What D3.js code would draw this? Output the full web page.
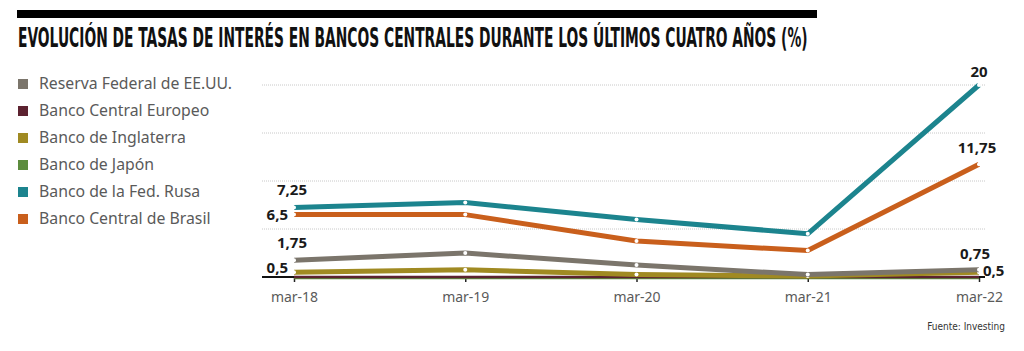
<!DOCTYPE html>
<html>
<head>
<meta charset="utf-8">
<script src="https://cdn.jsdelivr.net/npm/d3@7"></script>
<style>
  body { margin: 0; background: #fff; }
  svg { display: block; }
</style>
</head>
<body>
<script>
// datos
var fechas = ["mar-18", "mar-19", "mar-20", "mar-21", "mar-22"];
var bancos = ["Reserva Federal de EE.UU.", "Banco Central Europeo", "Banco de Inglaterra",
              "Banco de Japón", "Banco de la Fed. Rusa", "Banco Central de Brasil"];
var fed = [1.75, 2.5, 1.25, 0.25, 0.75];
var bce = [0, 0, 0, 0, 0];
var boe = [0.5, 0.75, 0.25, 0.1, 0.5];
var boj = [-0.1, -0.1, -0.1, -0.1, -0.1];
var rusia = [7.25, 7.75, 6, 4.5, 20];
var brasil = [6.5, 6.5, 3.75, 2.75, 11.75];
var colores = ["#7b756b", "#5c2230", "#a08a22", "#5c8c3e", "#1c848e", "#c95f1c"];
var gridTicks = [5, 10, 15, 20];

var width = 1024, height = 351;
var fuente = "'Noto Sans', 'Open Sans', sans-serif";

var series = [fed, bce, boe, boj, rusia, brasil].map(function(v, i) {
  return {name: bancos[i], color: colores[i], values: v};
});

var svg = d3.select("body").append("svg")
  .attr("width", width)
  .attr("height", height);

// titulo
svg.append("rect")
  .attr("x", 17).attr("y", 10)
  .attr("width", 800).attr("height", 8)
  .attr("fill", "#000");

var titulo = svg.append("text")
  .attr("x", 0).attr("y", 0)
  .style("font-family", "'Liberation Sans Narrow', 'DejaVu Sans Condensed', 'DejaVu Sans', sans-serif")
  .style("font-weight", "bold")
  .style("font-size", "26px")
  .style("fill", "#111")
  .text("EVOLUCIÓN DE TASAS DE INTERÉS EN BANCOS CENTRALES DURANTE LOS ÚLTIMOS CUATRO AÑOS (%)");
// ajustar ancho a 790px y estirar en vertical
var w0 = titulo.node().getComputedTextLength();
var fs = 26 * 790 / w0;
titulo.style("font-size", fs + "px");
var sy = 19.5 / (0.73 * fs);
titulo.attr("transform", "translate(18,47) scale(1," + sy + ")");

// leyenda
var legend = svg.append("g").attr("transform", "translate(18,84)");
var items = legend.selectAll("g")
  .data(series)
  .enter().append("g")
  .attr("transform", function(d, i) { return "translate(0," + (i * 27) + ")"; });
items.append("rect")
  .attr("x", 0).attr("y", -5)
  .attr("width", 10).attr("height", 10)
  .attr("fill", function(d) { return d.color; });
var ltxt = items.append("text")
  .attr("x", 21).attr("y", 5)
  .style("font-family", fuente)
  .style("font-size", "15px")
  .style("fill", "#5a5a5a")
  .text(function(d) { return d.name; });
var lw = ltxt.nodes()[0].getComputedTextLength();
ltxt.style("font-size", Math.min(16, 15 * 193 / lw) + "px");

// escalas
var x = d3.scalePoint()
  .domain(fechas)
  .range([294, 979]);

var y = d3.scaleLinear()
  .domain([0, 20])
  .range([277, 85]);

var g = svg.append("g");

// rejilla
g.selectAll(".grid")
  .data(gridTicks)
  .enter().append("line")
  .attr("x1", 262).attr("x2", 985)
  .attr("y1", function(d) { return y(d); })
  .attr("y2", function(d) { return y(d); })
  .attr("stroke", "#c8c8c8")
  .attr("stroke-width", 1)
  .attr("stroke-dasharray", "1,1");

// eje x
var xAxis = d3.axisBottom(x).tickSize(5).tickPadding(10);
var ax = g.append("g")
  .attr("transform", "translate(0," + y(0) + ")")
  .call(xAxis);
ax.select(".domain").remove();
ax.selectAll(".tick line").attr("stroke", "#222").attr("stroke-width", 1.5);
ax.selectAll(".tick text")
  .style("font-family", fuente)
  .style("font-size", "14px")
  .style("fill", "#5a5a5a");

g.append("line")
  .attr("x1", 262).attr("x2", 985)
  .attr("y1", y(0)).attr("y2", y(0))
  .attr("stroke", "#111")
  .attr("stroke-width", 2);

// lineas
var line = d3.line()
  .x(function(d, i) { return x(fechas[i]); })
  .y(function(d) { return y(d); });

var orden = [3, 1, 2, 0, 5, 4];
orden.forEach(function(k) {
  var s = series[k];
  var w = (k == 1 || k == 3) ? 2.5 : 5;
  g.append("path")
    .datum(s.values)
    .attr("fill", "none")
    .attr("stroke", s.color)
    .attr("stroke-width", w)
    .attr("stroke-linejoin", "round")
    .attr("d", line);
  if (w == 5) {
    g.selectAll(null)
      .data(s.values)
      .enter().append("circle")
      .attr("cx", function(d, i) { return x(fechas[i]); })
      .attr("cy", function(d) { return y(d); })
      .attr("r", 2)
      .attr("fill", "#fff");
  }
});

// etiquetas de valores
var etiquetas = [
  {s: 4, i: 0, txt: "7,25", dx: -2, dy: -12, anchor: "middle"},
  {s: 5, i: 0, txt: "6,5", dx: -6, dy: 5, anchor: "end"},
  {s: 0, i: 0, txt: "1,75", dx: -2, dy: -12, anchor: "middle"},
  {s: 2, i: 0, txt: "0,5", dx: -6, dy: 1, anchor: "end"},
  {s: 4, i: 4, txt: "20", dx: 0, dy: -8, anchor: "middle"},
  {s: 5, i: 4, txt: "11,75", dx: -2, dy: -11, anchor: "middle"},
  {s: 0, i: 4, txt: "0,75", dx: -4, dy: -11, anchor: "middle"},
  {s: 2, i: 4, txt: "0,5", dx: 4, dy: 4, anchor: "start"}
];
g.selectAll(".lbl")
  .data(etiquetas)
  .enter().append("text")
  .attr("x", function(d) { return x(fechas[d.i]) + d.dx; })
  .attr("y", function(d) { return y(series[d.s].values[d.i]) + d.dy; })
  .attr("text-anchor", function(d) { return d.anchor; })
  .style("font-family", fuente)
  .style("font-weight", "bold")
  .style("font-size", "15px")
  .style("fill", "#1a1a1a")
  .text(function(d) { return d.txt; });

svg.append("text")
  .attr("x", 1005).attr("y", 330)
  .attr("text-anchor", "end")
  .style("font-family", "'Liberation Sans Narrow', 'DejaVu Sans Condensed', sans-serif")
  .style("font-size", "10px")
  .style("fill", "#333")
  .text("Fuente: Investing");
</script>
</body>
</html>
